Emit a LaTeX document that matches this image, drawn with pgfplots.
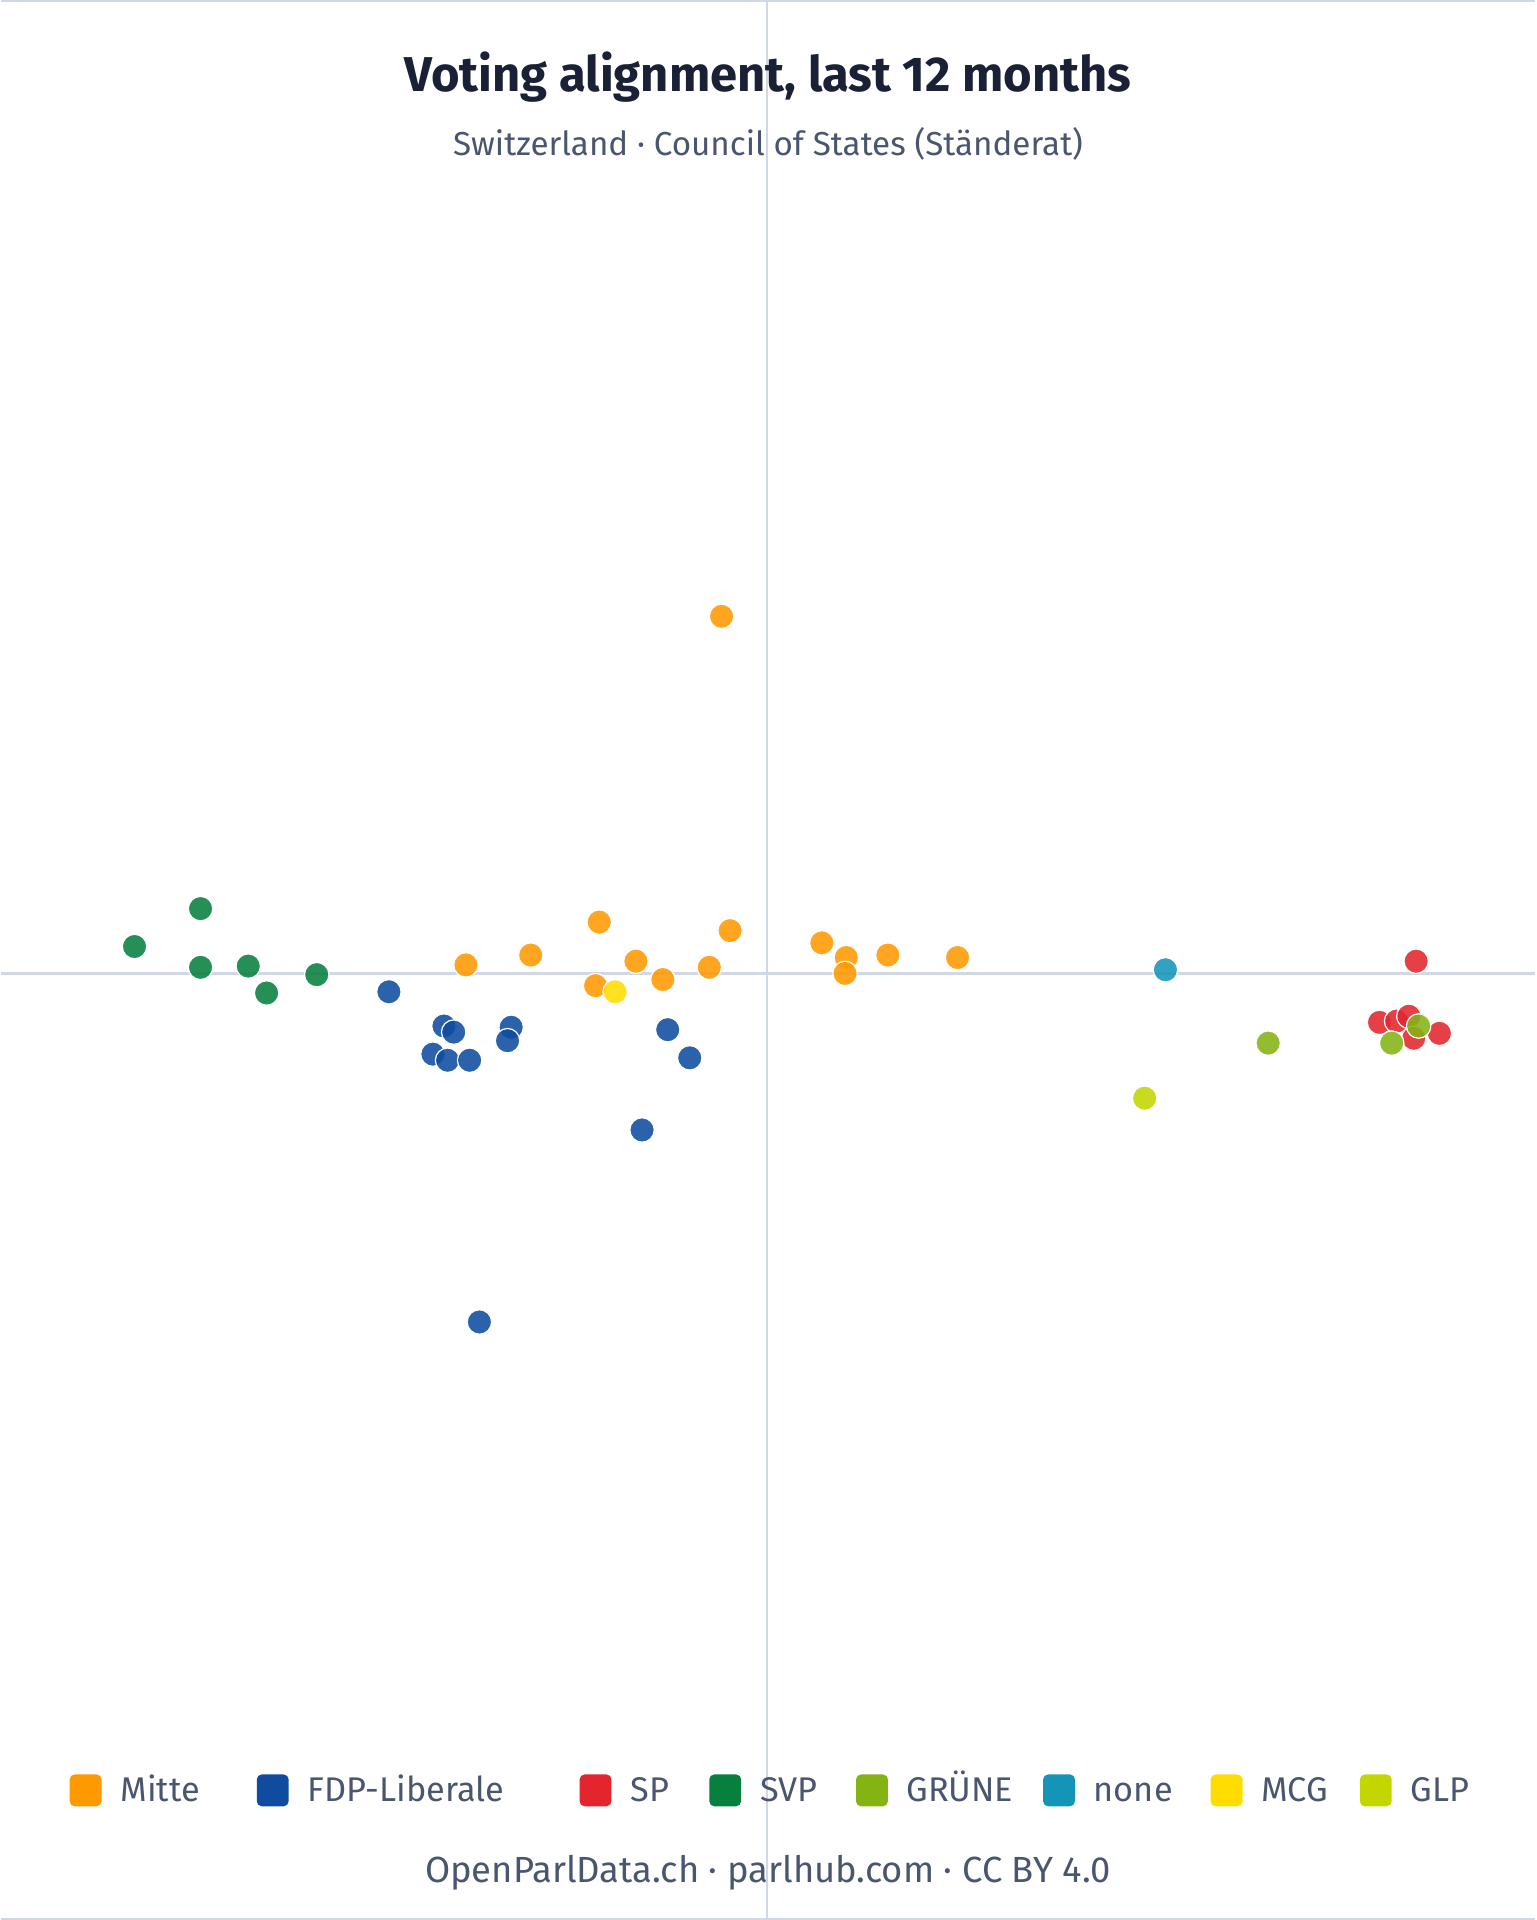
\documentclass[border=0pt]{standalone}
\usepackage{pgfplots}
\pgfplotsset{compat=1.18}
\usepackage{fontspec}
\setmainfont{Fira Sans}

% party colours
\definecolor{mitte}{HTML}{FF9900}
\definecolor{fdp}{HTML}{0F4C9F}
\definecolor{sp}{HTML}{E3262E}
\definecolor{svp}{HTML}{07803E}
\definecolor{gruene}{HTML}{84B414}
\definecolor{nonep}{HTML}{1495B8}
\definecolor{mcg}{HTML}{FFDD00}
\definecolor{glp}{HTML}{C3D600}
\definecolor{zeroline}{HTML}{D0D8E4}
\definecolor{titlec}{HTML}{1A2035}
\definecolor{subc}{HTML}{4A5570}

\pgfplotsset{
  party/.style={only marks, mark=*, mark size=4pt,
    mark options={fill=#1, fill opacity=0.88, draw=white, line width=0.4pt}},
}

% legend item: colour, text, x centre of the swatch
\newcommand\legitem[3]{%
  \fill[#1, rounded corners=1.6pt] (axis cs:#3-13,-655) rectangle (axis cs:#3+13,-681);
  \node[anchor=base west, text=subc, font=\fontsize{11.2}{13}\selectfont, inner sep=0pt]
    at (axis cs:#3+28,-677) {#2};}

\begin{document}
\begin{tikzpicture}
\begin{axis}[
    width=501.6pt, height=627.2pt, scale only axis,
    xmin=-626, xmax=628, ymin=-773, ymax=795,
    hide axis, clip=false,
  ]
  % zero lines and frame
  \draw[zeroline, line width=0.8pt] (axis cs:0,-773) -- (axis cs:0,795);
  \draw[zeroline, line width=0.8pt] (axis cs:-626,0) -- (axis cs:628,0);
  \draw[zeroline, line width=0.8pt] (axis cs:-626,795) -- (axis cs:628,795);
  \draw[zeroline, line width=0.8pt] (axis cs:-626,-773) -- (axis cs:628,-773);

  \addplot[party=mitte] coordinates {
    (-246,7) (-193,15) (-137,42) (-107,10) (-140,-10) (-85,-5) (-47,5)
    (-30,35) (45,25) (65,13) (64,0) (99,15) (156,13) (-37,292)};
  \addplot[party=fdp] coordinates {
    (-309,-15) (-264,-43) (-256,-48) (-209,-44) (-212,-55) (-273,-66)
    (-261,-71) (-243,-71) (-81,-46) (-63,-69) (-102,-128) (-235,-285)};
  \addplot[party=sp] coordinates {
    (531,10) (501,-40) (515,-39) (525,-35) (529,-53) (550,-49)};
  \addplot[party=svp] coordinates {
    (-517,22) (-463,53) (-463,5) (-424,6) (-409,-16) (-368,-1)};
  \addplot[party=gruene] coordinates {
    (410,-57) (511,-57) (533,-43)};
  \addplot[party=nonep] coordinates {(326,3)};
  \addplot[party=mcg] coordinates {(-124,-15)};
  \addplot[party=glp] coordinates {(309,-102)};

  % titles
  \node[text=titlec, font=\bfseries\fontsize{16}{19}\selectfont]
    at (axis cs:1,733) {Voting alignment, last 12 months};
  \node[text=subc, font=\fontsize{10.85}{13}\selectfont]
    at (axis cs:1,678) {Switzerland · Council of States (Ständerat)};

  % legend
  \legitem{mitte}{Mitte}{-557}
  \legitem{fdp}{FDP-Liberale}{-404}
  \legitem{sp}{SP}{-140}
  \legitem{svp}{SVP}{-34}
  \legitem{gruene}{GRÜNE}{86}
  \legitem{nonep}{none}{239}
  \legitem{mcg}{MCG}{376}
  \legitem{glp}{GLP}{498}

  % footer
  \node[text=subc, font=\fontsize{11.9}{14}\selectfont]
    at (axis cs:1,-735) {OpenParlData.ch · parlhub.com · CC BY 4.0};
\end{axis}
\end{tikzpicture}
\end{document}
